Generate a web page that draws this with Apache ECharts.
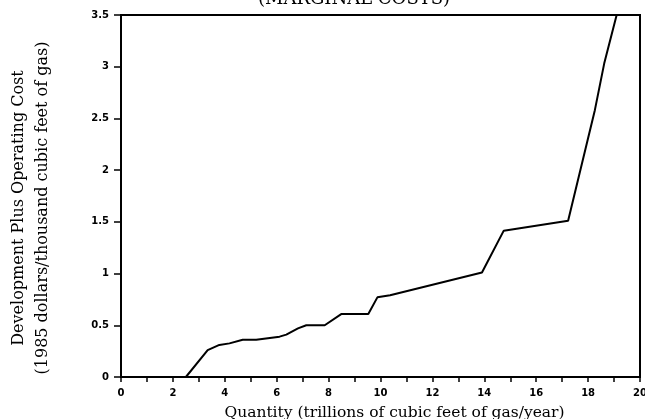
<!DOCTYPE html>
<html>
<head>
<meta charset="utf-8">
<script src="https://cdn.jsdelivr.net/npm/echarts@6/dist/echarts.min.js"></script>
<style>
html,body{margin:0;padding:0;background:#fff;}
#chart{width:645px;height:419px;}
</style>
</head>
<body>
<div id="chart"></div>
<script>
var quantity = [0, 2.5, 3.34, 3.79, 4.18, 4.69, 5.21, 6.11, 6.37, 6.82, 7.14, 7.85, 8.5, 9.53, 9.88, 10.37, 13.91, 14.75, 17.23, 17.98, 18.26, 18.62, 19.1];
var cost = [0, 0, 0.26, 0.31, 0.325, 0.36, 0.36, 0.39, 0.41, 0.47, 0.5, 0.5, 0.61, 0.61, 0.77, 0.79, 1.01, 1.415, 1.51, 2.29, 2.58, 3.03, 3.5];
var titleText = "(MARGINAL COSTS)";
var xName = "Quantity (trillions of cubic feet of gas/year)";
var yName = "Development Plus Operating Cost";
var yName2 = "(1985 dollars/thousand cubic feet of gas)";

var points = quantity.map(function (q, i) { return [q, cost[i]]; });
var chart = echarts.init(document.getElementById('chart'));
var serif = "DejaVu Serif";
var tickFont = {fontFamily: "DejaVu Sans", fontWeight: "bold", fontSize: 10, color: "#000"};
chart.setOption({
  animation: false,
  backgroundColor: "#fff",
  title: {
    text: titleText,
    left: 349, top: -15, textAlign: "center",
    textStyle: {fontFamily: serif, fontSize: 18, fontWeight: "normal", color: "#000"}
  },
  grid: {left: 121, right: 5, top: 15, bottom: 42, show: true, borderColor: "#000", borderWidth: 2,
         backgroundColor: "transparent", containLabel: false, outerBoundsMode: "none"},
  xAxis: {
    type: "value", min: 0, max: 20, interval: 1,
    name: xName, nameLocation: "middle", nameGap: 28,
    nameTextStyle: {fontFamily: serif, fontSize: 15.5, color: "#000", padding: [0, 0, 0, 28]},
    axisLine: {lineStyle: {color: "#000", width: 2}},
    axisTick: {lineStyle: {color: "#000", width: 1.5}, length: 5},
    axisLabel: Object.assign({margin: 11, formatter: function (v) { return v % 2 === 0 ? String(v) : ""; }}, tickFont),
    splitLine: {show: false}
  },
  yAxis: {
    type: "value", min: 0, max: 3.5, interval: 0.5,
    axisLine: {show: true, lineStyle: {color: "#000", width: 2}},
    axisTick: {show: true, lineStyle: {color: "#000", width: 1.5}, length: 7},
    axisLabel: Object.assign({margin: 12}, tickFont),
    splitLine: {show: false}
  },
  graphic: [
    {type: "text", rotation: Math.PI / 2, x: 19, y: 208,
     style: {text: yName, font: "16px '" + serif + "'", fill: "#000", textAlign: "center", textVerticalAlign: "middle"}},
    {type: "text", rotation: Math.PI / 2, x: 43, y: 208,
     style: {text: yName2, font: "16px '" + serif + "'", fill: "#000", textAlign: "center", textVerticalAlign: "middle"}}
  ],
  series: [{
    type: "line", data: points, symbol: "none",
    lineStyle: {color: "#000", width: 2}
  }]
});
</script>
</body>
</html>
